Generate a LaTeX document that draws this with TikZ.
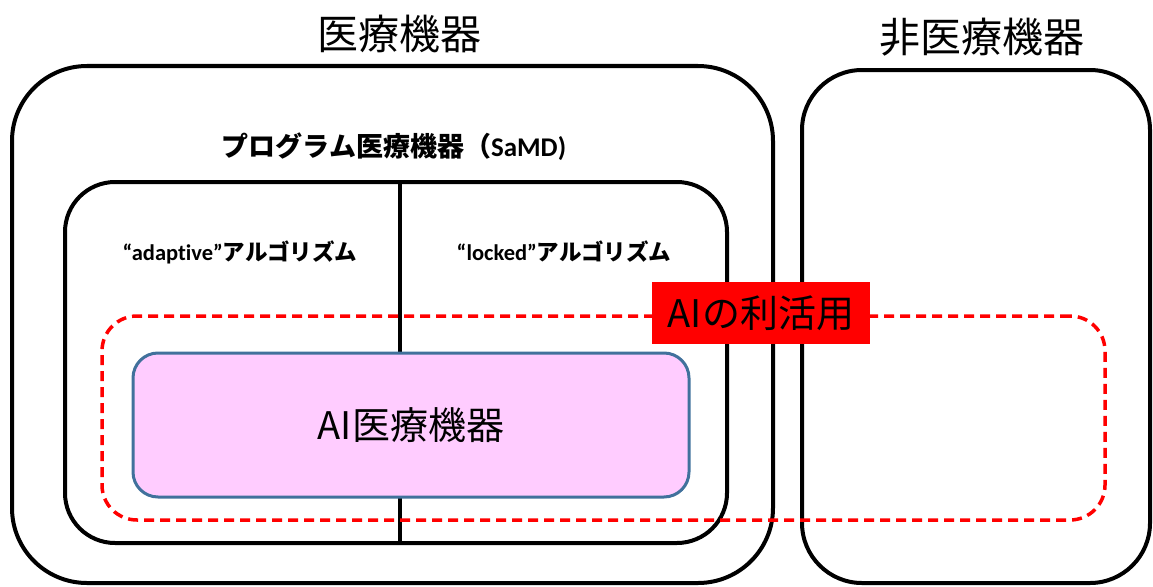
\documentclass[tikz,border=0pt]{standalone}
\usepackage{fontspec}
\newfontfamily\jp{Noto Sans CJK JP}
\newfontfamily\lat[Ligatures=NoCommon]{Carlito}
\begin{document}
\begin{tikzpicture}[x=1pt,y=-1pt,
  title/.style={font=\jp\fontsize{41}{48}\selectfont, inner sep=0pt},
  subtitle/.style={font=\jp\bfseries\fontsize{27}{32}\selectfont, inner sep=0pt},
  algo/.style={font=\jp\bfseries\fontsize{22.5}{26}\selectfont, inner sep=0pt},
  aiuse/.style={fill=red, draw=none, font=\jp\fontsize{38}{44}\selectfont, inner sep=0pt, text=black},
  aibox/.style={draw={rgb,255:red,65;green,113;blue,156}, line width=3pt, fill={rgb,255:red,255;green,204;blue,255}, rounded corners=25pt, font=\jp\fontsize{38}{44}\selectfont},
  reddash/.style={draw=red, line width=3.5pt, dash pattern=on 10pt off 6pt, rounded corners=35pt}
]
\useasboundingbox (0,0) rectangle (1153,586);
% outer boxes
\node[draw=black, line width=4pt, rounded corners=75pt, minimum width=761pt, minimum height=517pt] (med) at (392.5,324.5) {};
\node[draw=black, line width=4pt, rounded corners=60pt, minimum width=348pt, minimum height=513pt] (nonmed) at (976,326.5) {};
\node[draw=black, line width=4pt, rounded corners=50pt, minimum width=662pt, minimum height=361pt] (samd) at (396,362.5) {};
\coordinate (div) at (400,0);
\draw[line width=4pt] (samd.north -| div) -- (samd.south -| div);
% titles
\node[title] (medt) at (399,34) {医療機器};
\node[title] (nonmedt) at (982,37) {非医療機器};
\node[subtitle] (samdt) at (394,147) {プログラム医療機器（{\lat\bfseries SaMD)}};
\node[algo] (adapt) at (240,252) {{\lat\bfseries “adaptive”}アルゴリズム};
\node[algo] (locked) at (564,252) {{\lat\bfseries “locked”}アルゴリズム};
% dashed region
\node[reddash, minimum width=1003pt, minimum height=204pt] (use) at (603.5,418) {};
\node[aiuse, minimum width=218pt, minimum height=62pt] (uselabel) at (761,313) {AIの利活用};
% AI medical device
\node[aibox, minimum width=556pt, minimum height=144pt] (aidev) at (411,425) {AI医療機器};
\end{tikzpicture}
\end{document}
